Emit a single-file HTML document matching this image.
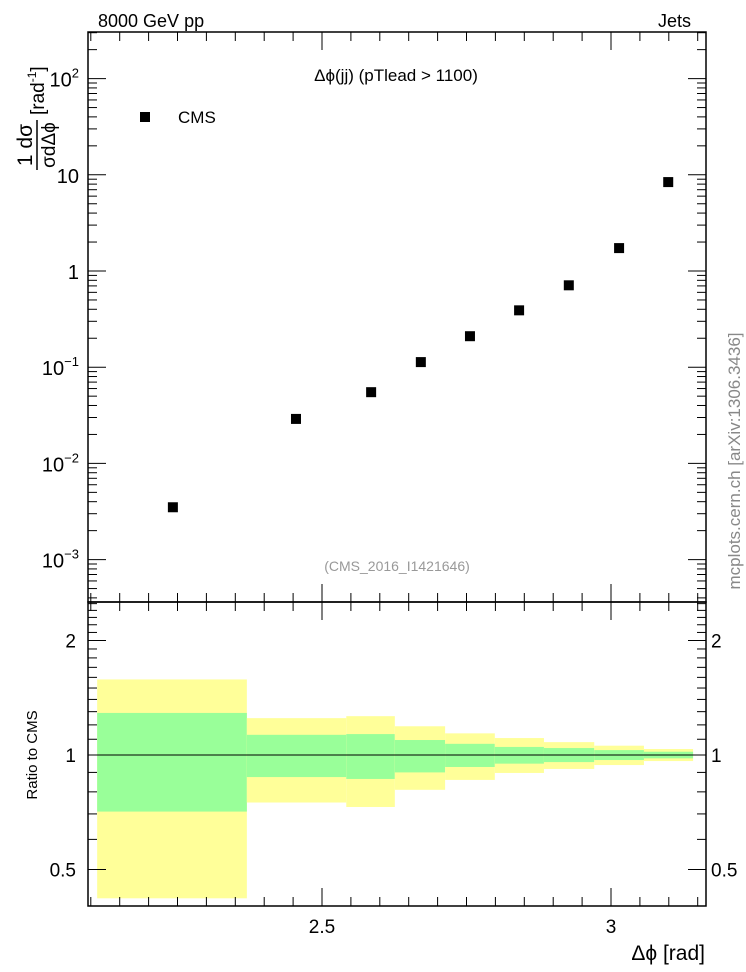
<!DOCTYPE html>
<html><head><meta charset="utf-8"><style>
body{margin:0;background:#fff;}
svg{display:block;font-family:"Liberation Sans",sans-serif;}
</style></head><body>
<svg id="c" width="746" height="972" xmlns="http://www.w3.org/2000/svg">
<text x="98" y="27" font-size="18">8000 GeV pp</text>
<text x="691" y="27" font-size="18" text-anchor="end">Jets</text>
<text x="396" y="81" font-size="17" text-anchor="middle">Δϕ(jj) (pTlead &gt;  1100)</text>
<text x="178" y="123" font-size="17">CMS</text>
<rect x="140" y="112" width="10" height="10" fill="#000"/>
<text x="397" y="571" font-size="14" fill="#999" text-anchor="middle">(CMS_2016_I1421646)</text>
<text transform="translate(740,461) rotate(-90)" font-size="17" fill="#888" text-anchor="middle">mcplots.cern.ch [arXiv:1306.3436]</text>
<text transform="translate(37,755) rotate(-90)" font-size="15" text-anchor="middle">Ratio to CMS</text>
<g transform="translate(40,90) rotate(-90)">
<text x="-55" y="-8" font-size="21" text-anchor="middle">1 dσ</text>
<line x1="-80" y1="-3" x2="-30" y2="-3" stroke="#000" stroke-width="1.5"/>
<text x="-55" y="15" font-size="19" text-anchor="middle">σdΔϕ</text>
<text x="-25" y="4" font-size="19">[rad<tspan font-size="12" dy="-8">-1</tspan><tspan dy="8">]</tspan></text>
</g>
<text x="705" y="960" font-size="21" text-anchor="end">Δϕ [rad]</text>
<g id="g"></g>
</svg>
<script>
const binEdges=[2.111,2.370,2.542,2.626,2.713,2.799,2.884,2.971,3.057,3.142];
const pointX=[2.242,2.455,2.585,2.671,2.756,2.841,2.927,3.014,3.099];
const pointY=[0.0035,0.029,0.055,0.113,0.21,0.39,0.71,1.73,8.4];
const yellowUp=[1.58,1.25,1.265,1.19,1.14,1.108,1.081,1.058,1.037];
const yellowDn=[0.42,0.75,0.73,0.81,0.86,0.897,0.919,0.941,0.964];
const greenUp=[1.29,1.13,1.135,1.095,1.07,1.05,1.043,1.03,1.02];
const greenDn=[0.71,0.875,0.865,0.90,0.93,0.949,0.958,0.97,0.98];
const xTicks=[2.5,3];
const xTickLabels=["2.5","3"];
const yTicks=[0.001,0.01,0.1,1,10,100];
const rTicks=[0.5,1,2];
const rTickLabels=["0.5","1","2"];

const L=88,R=706,T=32,M=602,B=906;
const X=v=>322+(v-2.5)*578;
const Y=v=>271-Math.log10(v)*96.2;
const RY=v=>755-Math.log2(v)*114.5;
const g=document.getElementById('g');
const NS="http://www.w3.org/2000/svg";
function mk(t,a,p){const e=document.createElementNS(NS,t);for(const k in a)e.setAttribute(k,a[k]);(p||g).appendChild(e);return e;}

binEdges.slice(0,-1).forEach((e,i)=>{
  const x0=X(e),x1=X(binEdges[i+1]);
  let r=mk('rect',{x:x0,y:RY(yellowUp[i]),width:x1-x0,height:RY(yellowDn[i])-RY(yellowUp[i]),fill:'#ffff99'});
  
  
  r=mk('rect',{x:x0,y:RY(greenUp[i]),width:x1-x0,height:RY(greenDn[i])-RY(greenUp[i]),fill:'#99ff99'});
  
  
});
let ln=mk('line',{x1:L,x2:R,y1:RY(1),y2:RY(1),stroke:'#000','stroke-width':1});



pointX.forEach((v,i)=>{
  const p=mk('rect',{x:X(v)-5,y:Y(pointY[i])-5,width:10,height:10,fill:'#000'});
  
  
});

let f=mk('rect',{x:L,y:T,width:R-L,height:M-T,fill:'none',stroke:'#000','stroke-width':1.5});


f=mk('rect',{x:L,y:M,width:R-L,height:B-M,fill:'none',stroke:'#000','stroke-width':1.5});



for(let k=0;k<=21;k++){
  const v=2.1+k*0.05; if(v>3.16)break;
  const x=X(v); const maj=Math.abs(v-2.5)<1e-6||Math.abs(v-3)<1e-6;
  const h=maj?18:9;
  [[T,T+h],[M,M-h],[M,M+h],[B,B-h]].forEach(([a,b])=>mk('line',{x1:x,x2:x,y1:a,y2:b,stroke:'#000'}));
}
xTicks.forEach((v,i)=>{const t=mk('text',{x:X(v),y:933,'font-size':19,'text-anchor':'middle'});t.textContent=xTickLabels[i];

});

for(let d=-4;d<=2;d++){for(let m=1;m<10;m++){const v=m*Math.pow(10,d);const y=Y(v);if(y<T||y>M)continue;
  const h=m===1?18:9;mk('line',{x1:L,x2:L+h,y1:y,y2:y,stroke:'#000'});mk('line',{x1:R,x2:R-h,y1:y,y2:y,stroke:'#000'});}}
yTicks.forEach(v=>{const t=mk('text',{x:79,y:Y(v)+8,'font-size':20,'text-anchor':'end'});
  const e=Math.round(Math.log10(v));
  if(e===0)t.textContent='1';else if(e===1)t.textContent='10';
  else{t.textContent='10';const s=document.createElementNS(NS,'tspan');s.setAttribute('font-size',13);s.setAttribute('dy',-9);s.textContent=(e<0?'−':'')+Math.abs(e);t.appendChild(s);}
  
  });

[0.4,0.5,0.6,0.7,0.8,0.9,1,1.1,1.2,1.3,1.4,1.5,1.6,1.7,1.8,1.9,2,2.1,2.2,2.3,2.4,2.5].forEach(v=>{const y=RY(v);if(y<M||y>B)return;
  const h=(v===0.5||v===1||v===2)?18:9;mk('line',{x1:L,x2:L+h,y1:y,y2:y,stroke:'#000'});mk('line',{x1:R,x2:R-h,y1:y,y2:y,stroke:'#000'});});
rTicks.forEach((v,i)=>{let t=mk('text',{x:76,y:RY(v)+7,'font-size':19,'text-anchor':'end'});t.textContent=rTickLabels[i];


t=mk('text',{x:711,y:RY(v)+7,'font-size':19});t.textContent=rTickLabels[i];

});
</script>
</body></html>
